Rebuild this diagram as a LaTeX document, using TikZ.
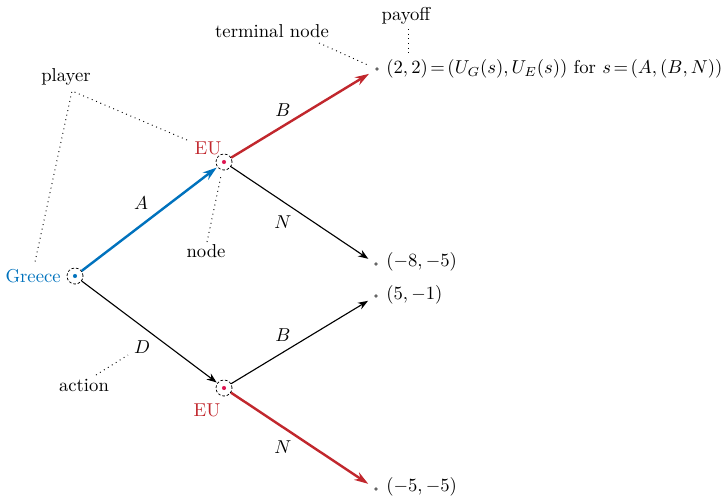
\documentclass[tikz,border=0pt]{standalone}
\usetikzlibrary{arrows.meta}
\definecolor{gblue}{RGB}{0,114,189}
\definecolor{ered}{RGB}{193,39,45}
\definecolor{edot}{RGB}{222,20,80}
\begin{document}
\begin{tikzpicture}[x=0.536pt,y=-0.536pt,
  decision/.style={circle, draw, dash pattern=on 1.4pt off 1pt, line width=0.4pt, inner sep=0pt, minimum size=8.6pt},
  move/.style={-{Stealth[length=5.4pt,width=4pt]}, line width=0.6pt, shorten >=5pt},
  bmove/.style={-{Stealth[length=7.5pt,width=4.8pt]}, line width=1.3pt, draw=gblue, shorten >=0.4pt},
  rmove/.style={-{Stealth[length=7.5pt,width=4.8pt]}, line width=1.3pt, draw=ered, shorten >=5pt},
  note/.style={dotted, line width=0.5pt},
  lab/.style={inner sep=0pt},
  pay/.style={anchor=west, inner sep=0pt}
]
\useasboundingbox (0,0) rectangle (725,496);

% decision nodes
\node[decision] (g) at (75,276) {};
\node[decision] (e1) at (224,162) {};
\node[decision] (e2) at (224,388) {};
\fill[gblue] (g.center) circle (1.1pt);
\fill[edot] (e1.center) circle (1.1pt);
\fill[edot] (e2.center) circle (1.1pt);

% terminal nodes
\coordinate (t1) at (377,69);
\coordinate (t2) at (376,264);
\coordinate (t3) at (376,296);
\coordinate (t4) at (376,489);
\foreach \t in {t1,t2,t3,t4} \fill[black!60] (\t) circle (1.05pt);

% player labels
\node[lab, text=gblue, anchor=east] (gl) at (61,276) {Greece};
\node[lab, text=ered] (e1l) at (208,148) {EU};
\node[lab, text=ered] (e2l) at (207,410) {EU};

% moves
\draw[bmove] (g) -- (e1);
\draw[move, shorten >=0.4pt] (g) -- (e2);
\draw[rmove] (e1) -- (t1);
\draw[move] (e1) -- (t2);
\draw[move] (e2) -- (t3);
\draw[rmove] (e2) -- (t4);

% action labels
\node[lab] (la) at (141,203) {$A$};
\node[lab] (ld) at (142,347) {$D$};
\node[lab] (lb1) at (283,110) {$B$};
\node[lab] (ln1) at (283,222) {$N$};
\node[lab] (lb2) at (283,335) {$B$};
\node[lab] (ln2) at (283,447) {$N$};

% payoffs
\node[pay] (p1) at (386,69) {\thickmuskip=2.5mu\medmuskip=3mu$(2,2) = (U_G(s),U_E(s))$ for $s=(A,(B,N))$};
\node[pay] (p2) at (386,262) {$(-8,-5)$};
\node[pay] (p3) at (386,295) {$(5,-1)$};
\node[pay] (p4) at (386,487) {$(-5,-5)$};

% annotations
\node[lab] (player) at (66,77) {player};
\coordinate (pv) at (72,91);
\coordinate (pe) at (187,140);
\coordinate (pg) at (35,262);
\draw[note] (pe) -- (pv) -- (pg);

\node[lab] (nodel) at (206,251) {node};
\coordinate (n1) at (207,242);
\coordinate (n2) at (221,176);
\draw[note] (n1) -- (n2);

\node[lab] (actl) at (84,385) {action};
\coordinate (a1) at (96,375);
\coordinate (a2) at (128,355);
\draw[note] (a1) -- (a2);

\node[lab] (terml) at (272,31) {terminal node};
\coordinate (tm1) at (319,43);
\coordinate (tm2) at (370,66);
\draw[note] (tm1) -- (tm2);

\node[lab] (payl) at (406,16) {payoff};
\coordinate (py1) at (408,29);
\coordinate (py2) at (408,53);
\draw[note] (py1) -- (py2);
\end{tikzpicture}
\end{document}
